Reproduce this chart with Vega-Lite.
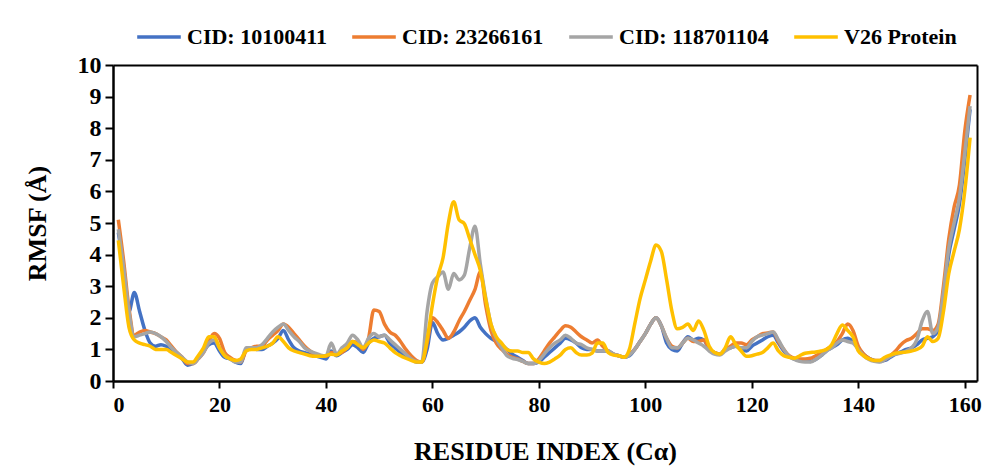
{
  "$schema": "https://vega.github.io/schema/vega-lite/v6.json",
  "autosize": "none",
  "width": 864,
  "height": 316,
  "padding": {"left": 113, "top": 65, "right": 15, "bottom": 89},
  "background": "white",
  "config": {
    "view": {"stroke": null},
    "font": "Liberation Serif"
  },
  "data": {"values": [
{"r":1,"a":4.7,"b":5.1,"c":4.8,"d":4.45},
{"r":2,"a":3.6,"b":3.8,"c":3.6,"d":3.0},
{"r":3,"a":2.2,"b":2.3,"c":2.2,"d":1.7},
{"r":4,"a":2.8,"b":1.45,"c":1.4,"d":1.3},
{"r":5,"a":2.2,"b":1.55,"c":1.45,"d":1.2},
{"r":6,"a":1.6,"b":1.6,"c":1.5,"d":1.15},
{"r":7,"a":1.2,"b":1.55,"c":1.55,"d":1.1},
{"r":8,"a":1.1,"b":1.5,"c":1.5,"d":1.0},
{"r":9,"a":1.15,"b":1.4,"c":1.4,"d":1.0},
{"r":10,"a":1.1,"b":1.3,"c":1.25,"d":1.0},
{"r":11,"a":1.0,"b":1.1,"c":1.05,"d":0.9},
{"r":12,"a":0.85,"b":0.9,"c":0.9,"d":0.8},
{"r":13,"a":0.7,"b":0.75,"c":0.75,"d":0.7},
{"r":14,"a":0.5,"b":0.55,"c":0.6,"d":0.6},
{"r":15,"a":0.55,"b":0.55,"c":0.55,"d":0.6},
{"r":16,"a":0.75,"b":0.7,"c":0.7,"d":0.8},
{"r":17,"a":0.95,"b":0.9,"c":0.9,"d":1.05},
{"r":18,"a":1.15,"b":1.25,"c":1.2,"d":1.4},
{"r":19,"a":1.2,"b":1.5,"c":1.3,"d":1.4},
{"r":20,"a":0.95,"b":1.35,"c":1.05,"d":1.05},
{"r":21,"a":0.75,"b":0.9,"c":0.8,"d":0.8},
{"r":22,"a":0.7,"b":0.75,"c":0.7,"d":0.7},
{"r":23,"a":0.6,"b":0.65,"c":0.6,"d":0.65},
{"r":24,"a":0.55,"b":0.6,"c":0.6,"d":0.7},
{"r":25,"a":1.0,"b":0.95,"c":1.05,"d":0.95},
{"r":26,"a":1.05,"b":1.05,"c":1.05,"d":1.0},
{"r":27,"a":1.0,"b":1.1,"c":1.05,"d":1.0},
{"r":28,"a":1.0,"b":1.1,"c":1.15,"d":1.05},
{"r":29,"a":1.1,"b":1.3,"c":1.35,"d":1.1},
{"r":30,"a":1.2,"b":1.45,"c":1.55,"d":1.2},
{"r":31,"a":1.35,"b":1.6,"c":1.7,"d":1.4},
{"r":32,"a":1.6,"b":1.8,"c":1.8,"d":1.25},
{"r":33,"a":1.3,"b":1.7,"c":1.6,"d":1.05},
{"r":34,"a":1.05,"b":1.5,"c":1.4,"d":0.95},
{"r":35,"a":0.95,"b":1.3,"c":1.25,"d":0.9},
{"r":36,"a":0.9,"b":1.1,"c":1.05,"d":0.85},
{"r":37,"a":0.85,"b":0.95,"c":0.95,"d":0.8},
{"r":38,"a":0.8,"b":0.85,"c":0.88,"d":0.78},
{"r":39,"a":0.75,"b":0.8,"c":0.82,"d":0.78},
{"r":40,"a":0.7,"b":0.78,"c":0.8,"d":0.8},
{"r":41,"a":0.95,"b":0.9,"c":1.2,"d":0.85},
{"r":42,"a":0.8,"b":0.85,"c":0.85,"d":0.82},
{"r":43,"a":0.9,"b":0.9,"c":1.05,"d":0.95},
{"r":44,"a":1.0,"b":1.05,"c":1.2,"d":1.05},
{"r":45,"a":1.15,"b":1.25,"c":1.45,"d":1.25},
{"r":46,"a":1.05,"b":1.2,"c":1.3,"d":1.15},
{"r":47,"a":0.9,"b":1.0,"c":1.05,"d":1.05},
{"r":48,"a":1.2,"b":1.35,"c":1.35,"d":1.2},
{"r":49,"a":1.35,"b":2.25,"c":1.5,"d":1.3},
{"r":50,"a":1.4,"b":2.2,"c":1.4,"d":1.25},
{"r":51,"a":1.45,"b":1.8,"c":1.45,"d":1.2},
{"r":52,"a":1.2,"b":1.55,"c":1.3,"d":1.05},
{"r":53,"a":1.05,"b":1.45,"c":1.15,"d":0.9},
{"r":54,"a":0.9,"b":1.25,"c":1.0,"d":0.8},
{"r":55,"a":0.8,"b":1.0,"c":0.85,"d":0.72},
{"r":56,"a":0.7,"b":0.8,"c":0.7,"d":0.65},
{"r":57,"a":0.6,"b":0.65,"c":0.62,"d":0.6},
{"r":58,"a":0.6,"b":0.6,"c":0.6,"d":0.6},
{"r":59,"a":1.0,"b":1.2,"c":2.2,"d":1.3},
{"r":60,"a":1.85,"b":2.0,"c":3.1,"d":2.4},
{"r":61,"a":1.5,"b":1.85,"c":3.3,"d":3.3},
{"r":62,"a":1.3,"b":1.6,"c":3.45,"d":3.9},
{"r":63,"a":1.35,"b":1.35,"c":2.9,"d":5.0},
{"r":64,"a":1.45,"b":1.55,"c":3.4,"d":5.67},
{"r":65,"a":1.55,"b":1.9,"c":3.2,"d":5.1},
{"r":66,"a":1.7,"b":2.2,"c":3.35,"d":4.98},
{"r":67,"a":1.9,"b":2.55,"c":4.2,"d":4.5},
{"r":68,"a":2.0,"b":2.9,"c":4.9,"d":4.0},
{"r":69,"a":1.7,"b":3.45,"c":3.7,"d":3.5},
{"r":70,"a":1.5,"b":2.4,"c":2.65,"d":2.6},
{"r":71,"a":1.35,"b":1.6,"c":1.8,"d":1.8},
{"r":72,"a":1.25,"b":1.2,"c":1.35,"d":1.4},
{"r":73,"a":1.15,"b":1.0,"c":1.05,"d":1.2},
{"r":74,"a":1.0,"b":0.85,"c":0.8,"d":1.0},
{"r":75,"a":0.85,"b":0.75,"c":0.72,"d":0.95},
{"r":76,"a":0.75,"b":0.7,"c":0.68,"d":0.95},
{"r":77,"a":0.65,"b":0.62,"c":0.62,"d":0.9},
{"r":78,"a":0.55,"b":0.55,"c":0.55,"d":0.9},
{"r":79,"a":0.55,"b":0.55,"c":0.55,"d":0.7},
{"r":80,"a":0.6,"b":0.7,"c":0.65,"d":0.6},
{"r":81,"a":0.75,"b":0.95,"c":0.85,"d":0.55},
{"r":82,"a":0.9,"b":1.2,"c":1.05,"d":0.6},
{"r":83,"a":1.05,"b":1.4,"c":1.2,"d":0.7},
{"r":84,"a":1.2,"b":1.6,"c":1.3,"d":0.82},
{"r":85,"a":1.35,"b":1.75,"c":1.45,"d":1.0},
{"r":86,"a":1.3,"b":1.7,"c":1.35,"d":1.05},
{"r":87,"a":1.2,"b":1.55,"c":1.2,"d":0.9},
{"r":88,"a":1.05,"b":1.4,"c":1.15,"d":0.82},
{"r":89,"a":1.0,"b":1.3,"c":1.05,"d":0.82},
{"r":90,"a":1.0,"b":1.2,"c":1.0,"d":0.88},
{"r":91,"a":0.95,"b":1.3,"c":0.95,"d":1.2},
{"r":92,"a":0.95,"b":1.1,"c":0.95,"d":1.2},
{"r":93,"a":0.95,"b":0.95,"c":0.95,"d":0.9},
{"r":94,"a":0.85,"b":0.85,"c":0.85,"d":0.82},
{"r":95,"a":0.8,"b":0.8,"c":0.8,"d":0.8},
{"r":96,"a":0.75,"b":0.75,"c":0.75,"d":0.75},
{"r":97,"a":0.8,"b":0.85,"c":0.82,"d":1.0},
{"r":98,"a":1.0,"b":1.0,"c":1.0,"d":1.8},
{"r":99,"a":1.25,"b":1.25,"c":1.25,"d":2.6},
{"r":100,"a":1.5,"b":1.5,"c":1.5,"d":3.2},
{"r":101,"a":1.8,"b":1.8,"c":1.8,"d":3.8},
{"r":102,"a":2.0,"b":2.0,"c":2.0,"d":4.3},
{"r":103,"a":1.75,"b":1.75,"c":1.75,"d":4.1},
{"r":104,"a":1.2,"b":1.35,"c":1.35,"d":3.2},
{"r":105,"a":1.0,"b":1.1,"c":1.05,"d":2.2},
{"r":106,"a":0.95,"b":1.05,"c":1.05,"d":1.65},
{"r":107,"a":1.2,"b":1.2,"c":1.2,"d":1.7},
{"r":108,"a":1.4,"b":1.35,"c":1.35,"d":1.8},
{"r":109,"a":1.3,"b":1.25,"c":1.3,"d":1.6},
{"r":110,"a":1.35,"b":1.25,"c":1.2,"d":1.9},
{"r":111,"a":1.3,"b":1.3,"c":1.1,"d":1.6},
{"r":112,"a":1.0,"b":1.0,"c":0.95,"d":1.1},
{"r":113,"a":0.9,"b":0.9,"c":0.85,"d":0.9},
{"r":114,"a":0.85,"b":0.85,"c":0.82,"d":0.85},
{"r":115,"a":1.0,"b":1.0,"c":0.95,"d":1.05},
{"r":116,"a":1.05,"b":1.1,"c":1.05,"d":1.4},
{"r":117,"a":1.1,"b":1.2,"c":1.1,"d":1.15},
{"r":118,"a":1.0,"b":1.2,"c":1.05,"d":0.95},
{"r":119,"a":0.95,"b":1.15,"c":1.05,"d":0.78},
{"r":120,"a":1.1,"b":1.3,"c":1.25,"d":0.8},
{"r":121,"a":1.2,"b":1.4,"c":1.4,"d":0.85},
{"r":122,"a":1.3,"b":1.5,"c":1.45,"d":0.9},
{"r":123,"a":1.4,"b":1.52,"c":1.5,"d":1.05},
{"r":124,"a":1.45,"b":1.55,"c":1.55,"d":1.2},
{"r":125,"a":1.2,"b":1.25,"c":1.3,"d":0.95},
{"r":126,"a":0.95,"b":1.0,"c":1.0,"d":0.8},
{"r":127,"a":0.78,"b":0.8,"c":0.78,"d":0.75},
{"r":128,"a":0.7,"b":0.72,"c":0.68,"d":0.72},
{"r":129,"a":0.65,"b":0.7,"c":0.62,"d":0.8},
{"r":130,"a":0.65,"b":0.7,"c":0.6,"d":0.88},
{"r":131,"a":0.62,"b":0.72,"c":0.6,"d":0.9},
{"r":132,"a":0.68,"b":0.8,"c":0.68,"d":0.92},
{"r":133,"a":0.8,"b":0.88,"c":0.8,"d":0.95},
{"r":134,"a":0.95,"b":1.0,"c":0.95,"d":1.0},
{"r":135,"a":1.05,"b":1.1,"c":1.05,"d":1.15},
{"r":136,"a":1.15,"b":1.25,"c":1.2,"d":1.5},
{"r":137,"a":1.3,"b":1.5,"c":1.3,"d":1.77},
{"r":138,"a":1.35,"b":1.8,"c":1.25,"d":1.6},
{"r":139,"a":1.25,"b":1.6,"c":1.2,"d":1.4},
{"r":140,"a":1.05,"b":1.1,"c":1.0,"d":0.95},
{"r":141,"a":0.85,"b":0.85,"c":0.8,"d":0.8},
{"r":142,"a":0.72,"b":0.72,"c":0.68,"d":0.7},
{"r":143,"a":0.65,"b":0.65,"c":0.62,"d":0.65},
{"r":144,"a":0.62,"b":0.65,"c":0.6,"d":0.65},
{"r":145,"a":0.65,"b":0.68,"c":0.68,"d":0.75},
{"r":146,"a":0.75,"b":0.8,"c":0.78,"d":0.82},
{"r":147,"a":0.85,"b":0.95,"c":0.85,"d":0.88},
{"r":148,"a":0.92,"b":1.15,"c":0.88,"d":0.9},
{"r":149,"a":1.0,"b":1.28,"c":0.95,"d":0.92},
{"r":150,"a":1.05,"b":1.35,"c":1.05,"d":0.95},
{"r":151,"a":1.15,"b":1.5,"c":1.3,"d":1.0},
{"r":152,"a":1.3,"b":1.65,"c":1.9,"d":1.1},
{"r":153,"a":1.35,"b":1.65,"c":2.2,"d":1.4},
{"r":154,"a":1.4,"b":1.6,"c":1.5,"d":1.25},
{"r":155,"a":1.6,"b":1.8,"c":1.7,"d":1.35},
{"r":156,"a":2.6,"b":3.0,"c":2.8,"d":2.2},
{"r":157,"a":4.0,"b":4.5,"c":4.2,"d":3.4},
{"r":158,"a":4.8,"b":5.5,"c":5.0,"d":4.1},
{"r":159,"a":5.6,"b":6.2,"c":5.8,"d":4.8},
{"r":160,"a":7.0,"b":7.9,"c":7.2,"d":6.0},
{"r":161,"a":8.6,"b":9.05,"c":8.7,"d":7.7}
  ]},
  "transform": [{"fold": ["a", "b", "c", "d"], "as": ["series", "rmsf"]}],
  "layer": [
    {
      "transform": [{"filter": "false"}],
      "mark": {"type": "line"},
      "encoding": {
        "x": {
          "field": "r", "type": "quantitative",
          "scale": {"domain": [0, 162.3], "nice": false, "zero": false},
          "axis": {"orient": "top", "labels": false, "ticks": false, "title": null, "grid": false, "domainColor": "black", "domainWidth": 2}
        },
        "y": {
          "field": "rmsf", "type": "quantitative",
          "scale": {"domain": [0, 10], "nice": false},
          "axis": {"orient": "right", "labels": false, "ticks": false, "title": null, "grid": false, "domainColor": "black", "domainWidth": 2}
        }
      }
    },
    {
      "mark": {"type": "line", "interpolate": "monotone", "strokeWidth": 3.5, "clip": true},
      "encoding": {
        "x": {
          "field": "r", "type": "quantitative",
          "scale": {"domain": [0, 162.3], "nice": false, "zero": false},
          "axis": {
            "orient": "bottom",
            "values": [0, 20, 40, 60, 80, 100, 120, 140, 160],
            "title": "RESIDUE INDEX (Cα)",
            "grid": false,
            "domainColor": "black", "domainWidth": 2.5,
            "tickColor": "black", "tickWidth": 2, "tickSize": 7,
            "labelFont": "Liberation Serif", "labelFontWeight": "bold", "labelFontSize": 22, "labelColor": "black",
            "labelPadding": 6,
            "titleFont": "Liberation Serif", "titleFontWeight": "bold", "titleFontSize": 26, "titleColor": "black",
            "titlePadding": 23
          }
        },
        "y": {
          "field": "rmsf", "type": "quantitative",
          "scale": {"domain": [0, 10], "nice": false},
          "axis": {
            "orient": "left",
            "values": [0, 1, 2, 3, 4, 5, 6, 7, 8, 9, 10],
            "title": "RMSF (Å)",
            "grid": false,
            "domainColor": "black", "domainWidth": 2.5,
            "tickColor": "black", "tickWidth": 2, "tickSize": 8,
            "labelFont": "Liberation Serif", "labelFontWeight": "bold", "labelFontSize": 24, "labelColor": "black",
            "labelPadding": 4,
            "titleFont": "Liberation Serif", "titleFontWeight": "bold", "titleFontSize": 26, "titleColor": "black",
            "titlePadding": 27
          }
        },
        "color": {
          "field": "series", "type": "nominal",
          "scale": {"domain": ["a", "b", "c", "d"], "range": ["#4472C4", "#ED7D31", "#A5A5A5", "#FFC000"]},
          "legend": {
            "title": null,
            "orient": "none",
            "legendX": 22,
            "legendY": -52,
            "direction": "horizontal",
            "symbolType": "stroke",
            "symbolSize": 1900,
            "symbolStrokeWidth": 3.5,
            "labelExpr": "{'a': 'CID: 10100411', 'b': 'CID: 23266161', 'c': 'CID: 118701104', 'd': 'V26 Protein'}[datum.label]",
            "labelFont": "Liberation Serif", "labelFontWeight": "bold", "labelFontSize": 22, "labelColor": "black",
            "labelOffset": 4,
            "columnPadding": 18,
            "labelLimit": 300
          }
        }
      }
    }
  ],
  "resolve": {"axis": {"x": "independent", "y": "independent"}}
}
